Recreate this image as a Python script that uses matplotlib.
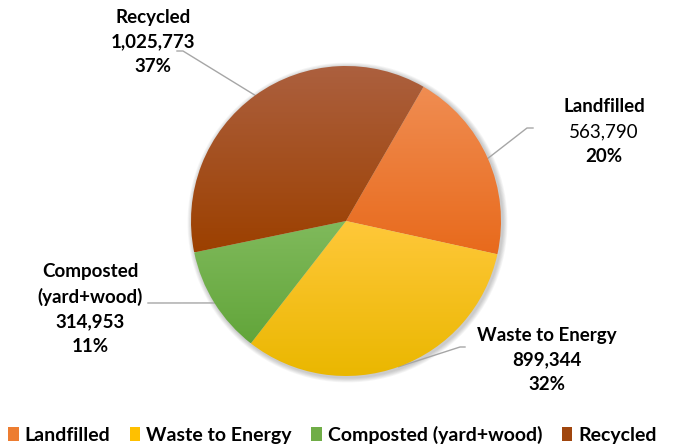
import numpy as np
import matplotlib.pyplot as plt
from matplotlib.patches import Patch, Circle

# --- data ---
categories = ["Landfilled", "Waste to Energy", "Composted (yard+wood)", "Recycled"]
tonnes = [563790, 899344, 314953, 1025773]
label_names = ["Landfilled", "Waste to Energy", "Composted\n(yard+wood)", "Recycled"]

# gradient colours per slice (top -> bottom) and the flat legend colour
grad_top = ["#F08D52", "#FFC83A", "#80BA5C", "#AC603F"]
grad_bot = ["#E86A1C", "#EAB700", "#62A53A", "#9C4000"]
legend_colors = ["#ED7D31", "#FFC000", "#70AD47", "#A0460E"]

W, H = 673, 447
fig = plt.figure(figsize=(W / 100, H / 100), dpi=100)
ax = fig.add_axes([0, 0, 1, 1])

FONT = "Lato"
cx, cy, R = 346, H - 221, 155

# soft shadow behind the pie
for k in range(6):
    ax.add_patch(Circle((cx + 1.5, cy - 1.5), R + 1 + k * 0.8, color="black",
                        alpha=0.035, lw=0, zorder=0))

wedges, _ = ax.pie(tonnes, startangle=60, counterclock=False, center=(cx, cy),
                   radius=R, wedgeprops=dict(linewidth=0))

for w, ct, cb in zip(wedges, grad_top, grad_bot):
    ext = w.get_path().get_extents()
    c0 = np.array(plt.matplotlib.colors.to_rgb(ct))
    c1 = np.array(plt.matplotlib.colors.to_rgb(cb))
    t = np.linspace(0, 1, 256)[:, None, None]
    img = c0 * (1 - t) + c1 * t
    im = ax.imshow(img, extent=(ext.x0, ext.x1, ext.y0, ext.y1), origin="upper",
                   aspect="auto", zorder=2, interpolation="bilinear")
    im.set_clip_path(w)
    w.set_facecolor("none")

total = sum(tonnes)
pcts = [f"{round(100 * v / total)}%" for v in tonnes]
vals = [f"{v:,}" for v in tonnes]

# label placements (text centre x, first line y in px) and leader elbow
label_pos = [(604, 107), (547, 335), (90, 272), (153, 17)]
elbows = [((533, 128), (527, 128)), ((465, 347), (460, 347)),
          ((148, 303), (152, 303)), ((177, 51), (183, 51))]
line_gap = 25
fs = 13.5

for i, w in enumerate(wedges):
    x, y0 = label_pos[i]
    lines = label_names[i].split("\n") + [vals[i], pcts[i]]
    weights = ["bold"] * len(lines)
    if categories[i] == "Landfilled":
        weights[1] = "normal"
    for j, (txt, wt) in enumerate(zip(lines, weights)):
        ax.text(x, H - (y0 + j * line_gap), txt, ha="center", va="center",
                fontsize=fs, fontweight=wt, family=FONT, color="black", zorder=5)
    # leader line to mid-angle of the slice edge
    mid = np.deg2rad((w.theta1 + w.theta2) / 2)
    ex, ey = cx + R * np.cos(mid), cy + R * np.sin(mid)
    (ax0, ay0), (ax1, ay1) = elbows[i]
    ax.plot([ax0, ax1, ex], [H - ay0, H - ay1, ey], color="#A6A6A6", lw=1, zorder=1)

handles = [Patch(facecolor=c, edgecolor="none") for c in legend_colors]
leg = ax.legend(handles, categories, loc="center left", bbox_to_anchor=(8 / W, 1 - 435 / H),
                bbox_transform=fig.transFigure, ncol=4, frameon=False, borderpad=0,
                handlelength=0.55, handleheight=0.75, handletextpad=0.3, columnspacing=1.0,
                prop=dict(family=FONT, weight="bold", size=14), borderaxespad=0)

ax.set_xlim(0, W)
ax.set_ylim(0, H)
ax.set_axis_off()
fig.savefig("out.png", dpi=100)
